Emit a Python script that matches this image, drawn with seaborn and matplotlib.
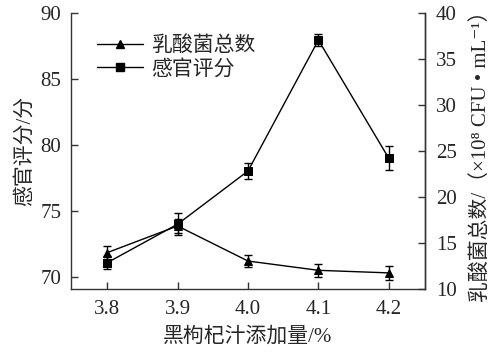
import numpy as np
import pandas as pd
import seaborn as sns
import matplotlib
matplotlib.use('Agg')
import matplotlib.pyplot as plt

# du lieu doc tu hinh
x_vals = [3.8, 3.9, 4.0, 4.1, 4.2]
xtick_labels = ['3.8', '3.9', '4.0', '4.1', '4.2']
score = [71.08, 74.0, 78.03, 87.95, 78.99]          # 感官评分 (truc trai)
score_err = [0.5, 0.85, 0.63, 0.43, 0.92]
lab = [13.95, 16.85, 13.04, 12.03, 11.75]            # 乳酸菌总数 (truc phai)
lab_err = [0.73, 0.8, 0.65, 0.7, 0.8]

sns.set_theme(style='ticks')
fonts = ['Liberation Serif', 'Noto Sans CJK SC', 'DejaVu Serif']
plt.rcParams['font.family'] = fonts
plt.rcParams['axes.unicode_minus'] = False

fig = plt.figure(figsize=(4.95, 3.59), dpi=100)
ax = fig.add_axes([0.1434, 0.195, 0.7152, 0.7688])
ax2 = ax.twinx()

df = pd.DataFrame({'x': x_vals, 'score': score, 'lab': lab})

# 乳酸菌总数 - tam giac, truc phai
sns.lineplot(data=df, x='x', y='lab', ax=ax2, color='black', linewidth=1.0,
             marker='^', markersize=6, markeredgecolor='black', legend=False)
ax2.errorbar(x_vals, lab, yerr=lab_err, fmt='none', ecolor='black',
             elinewidth=1.0, capsize=3, capthick=1.0)

# 感官评分 - hinh vuong, truc trai
sns.lineplot(data=df, x='x', y='score', ax=ax, color='black', linewidth=1.0,
             marker='s', markersize=6, markeredgecolor='black', legend=False)
ax.errorbar(x_vals, score, yerr=score_err, fmt='none', ecolor='black',
            elinewidth=1.0, capsize=3, capthick=1.0)

ax.set_xlim(3.7486, 4.2514)
ax.set_ylim(69.09, 90)
ax.set_yticks([70, 75, 80, 85, 90])
ax.set_xticks(x_vals)
ax.set_xticklabels(xtick_labels)
ax2.set_ylim(10, 40)
ax2.set_yticks([10, 15, 20, 25, 30, 35, 40])

for a in (ax, ax2):
    a.spines['top'].set_visible(False)
    for s in a.spines.values():
        s.set_color('#333333')
        s.set_linewidth(1.0)
    a.tick_params(direction='in', length=5, width=1.0, color='#333333',
                  labelsize=15, pad=5)
ax.tick_params(axis='x', pad=8)
ax.tick_params(axis='y', pad=7)
ax2.tick_params(axis='y', pad=8)
ax2.spines['left'].set_visible(False)
ax2.spines['bottom'].set_visible(False)

ax.set_xlabel('黑枸杞汁添加量/%', fontsize=15, labelpad=6)
ax.set_ylabel('感官评分/分', fontsize=15, labelpad=4)
ax2.set_ylabel('乳酸菌总数/（×10⁸ CFU • mL⁻¹）', fontsize=15, labelpad=10)

# chu thich
h1 = plt.Line2D([0], [0], color='black', lw=1.0, marker='^', markersize=6)
h2 = plt.Line2D([0], [0], color='black', lw=1.0, marker='s', markersize=6)
ax.legend(handles=[h1, h2], labels=['乳酸菌总数', '感官评分'], loc='upper left',
          bbox_to_anchor=(0.05, 0.945), frameon=False, fontsize=15,
          handlelength=2.2, handletextpad=0.4, labelspacing=0.15, borderaxespad=0)

fig.savefig('out.png', dpi=100)
